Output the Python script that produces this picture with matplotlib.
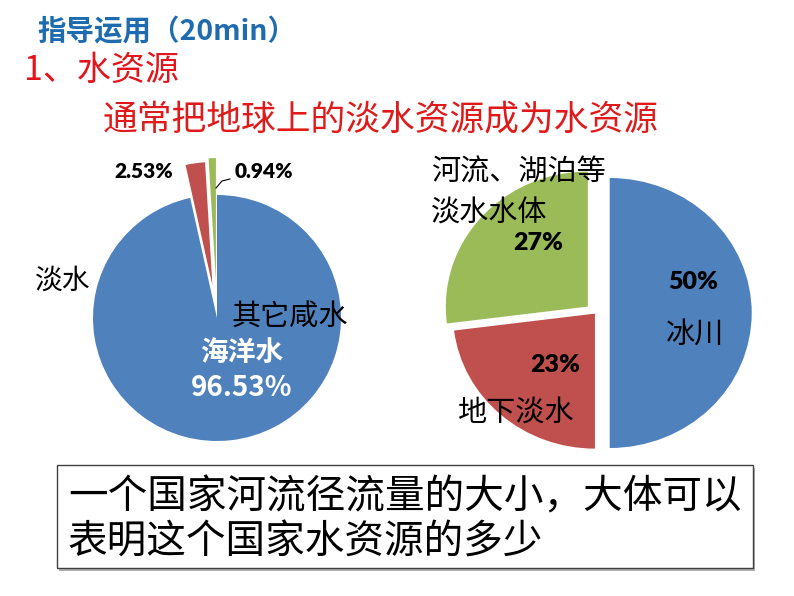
import matplotlib.pyplot as plt
from matplotlib.patches import Rectangle

W, H = 794, 596

# ocean water vs fresh water (left pie), counter-clockwise from the top
left_labels = ['0.94%', '2.53%', '96.53%']
left_values = [0.94, 2.53, 96.53]

# composition of fresh water (right pie), clockwise from the top
right_names = ['冰川', '地下淡水', '河流、湖泊等\n淡水水体']
right_labels = ['50%', '23%', '27%']
right_values = [50, 23, 27]

blue, red, green = '#4F81BD', '#C0504D', '#9BBB59'
cjk = ['Noto Sans CJK SC', 'DejaVu Sans']
num = ['Lato', 'Noto Sans CJK SC']

fig = plt.figure(figsize=(W / 100, H / 100), dpi=100)


def pie_axes():
    # full-figure axes, limits are set after the pie is drawn
    ax = fig.add_axes([0, 0, 1, 1])
    ax.patch.set_alpha(0)
    return ax


def fix_limits(ax, cx, cy, rx, ry):
    # put the unit circle at pixel (cx, cy) with radii rx, ry
    ax.set_aspect('auto')
    ax.set_xlim(-cx / rx, (W - cx) / rx)
    ax.set_ylim(-(H - cy) / ry, cy / ry)
    ax.axis('off')


# left pie
ax1 = pie_axes()
ax1.pie(left_values, colors=[green, red, blue], startangle=90,
        explode=[0.3, 0.27, 0], wedgeprops=dict(linewidth=0))
fix_limits(ax1, 217, 318, 124, 123)

# right pie
ax2 = pie_axes()
ax2.pie(right_values, colors=[blue, red, green], startangle=90,
        counterclock=False, explode=[0.10, 0.006, 0.072],
        wedgeprops=dict(linewidth=0))
fix_limits(ax2, 595.5, 313, 142, 135)

# overlay in pixel coordinates for texts and the box
ov = fig.add_axes([0, 0, 1, 1])
ov.patch.set_alpha(0)
ov.set_xlim(0, W)
ov.set_ylim(H, 0)
ov.axis('off')

ov.text(37, 32, '指导运用（20min）', color='#1F6BB0', fontsize=20.5,
        fontweight='bold', family=cjk, ha='left', va='center')
ov.text(24, 70, '1、水资源', color='#E3141B', fontsize=24.5,
        family=cjk, ha='left', va='center')
ov.text(381, 120, '通常把地球上的淡水资源成为水资源', color='#E01A1A',
        fontsize=25, family=cjk, ha='center', va='center')

# left pie labels
ov.text(144, 172, left_labels[1], fontsize=15, fontweight='heavy',
        family=num, ha='center', va='center')
ov.text(264, 172, left_labels[0], fontsize=15, fontweight='heavy',
        family=num, ha='center', va='center')
ov.plot([216, 222, 230], [188, 181, 179], color='black', lw=0.8)
ov.text(63, 281, '淡水', fontsize=20, family=cjk, ha='center', va='center')
ov.text(290, 318, '其它咸水', fontsize=21, family=cjk, ha='center', va='center')
ov.text(242, 353, '海洋水', fontsize=20, fontweight='bold', color='white',
        family=cjk, ha='center', va='center')
ov.text(242, 388, left_labels[2], fontsize=20, fontweight='bold',
        color='white', family=cjk, ha='center', va='center')

# right pie labels
ov.text(693, 282, right_labels[0], fontsize=18, fontweight='heavy',
        family=num, ha='center', va='center')
ov.text(695, 335, right_names[0], fontsize=21, family=cjk,
        ha='center', va='center')
ov.text(555, 365, right_labels[1], fontsize=18, fontweight='heavy',
        family=num, ha='center', va='center')
ov.text(515, 413, right_names[1], fontsize=21, family=cjk,
        ha='center', va='center')
ov.text(538, 243, right_labels[2], fontsize=18, fontweight='heavy',
        family=num, ha='center', va='center')
ov.text(431, 193, right_names[2], fontsize=21, family=cjk,
        ha='left', va='center', linespacing=1.5)

# bottom box with a light shadow
ov.add_patch(Rectangle((59, 468), 696, 103, facecolor='#B0B0B0',
                       edgecolor='none'))
ov.add_patch(Rectangle((57, 465), 696, 103, facecolor='white',
                       edgecolor='#404040', lw=1))
ov.text(68, 497, '一个国家河流径流量的大小，大体可以', fontsize=28.5,
        family=cjk, ha='left', va='center')
ov.text(68, 543, '表明这个国家水资源的多少', fontsize=28.5,
        family=cjk, ha='left', va='center')

fig.savefig('out.png', dpi=100)
